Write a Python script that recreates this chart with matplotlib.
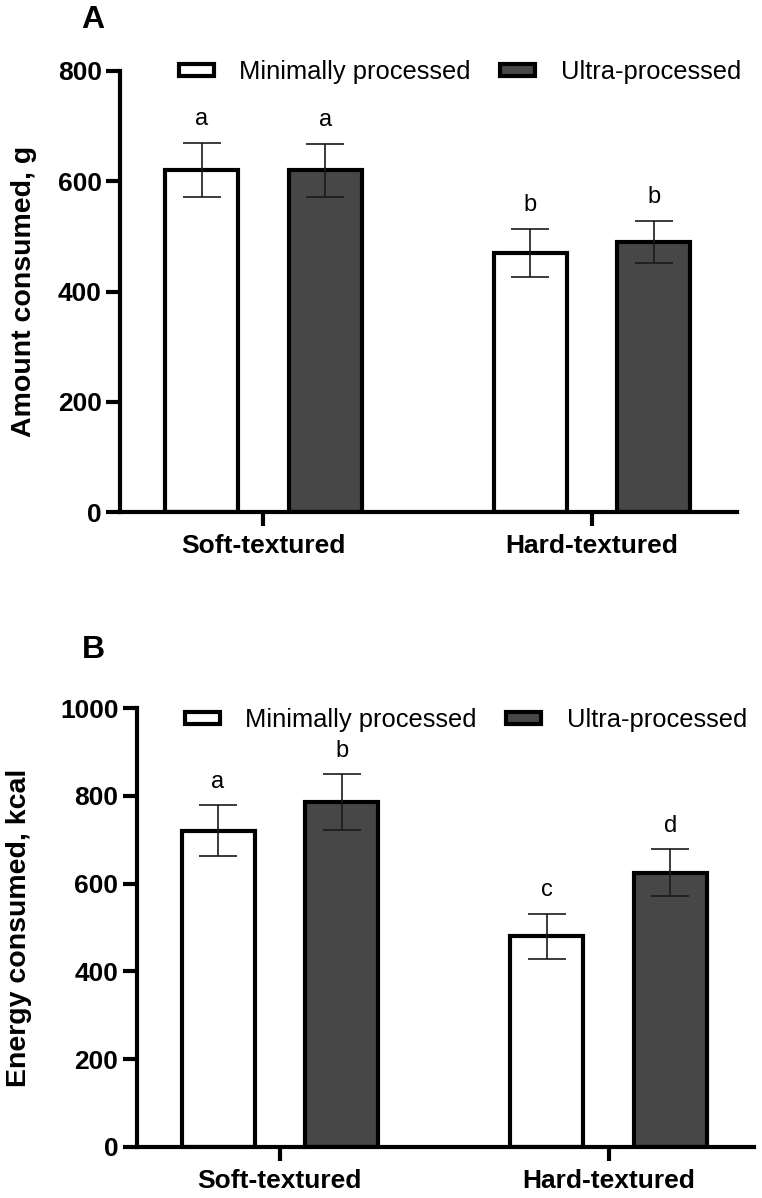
import matplotlib
matplotlib.use("Agg")
import matplotlib.pyplot as plt
import numpy as np
from matplotlib.patches import Patch

plt.rcParams['font.family'] = ['Liberation Sans', 'DejaVu Sans']

categories = ["Soft-textured", "Hard-textured"]
series_names = ["Minimally processed", "Ultra-processed"]

# panel A: amount consumed (g)
amount_mp = [621, 470]
amount_up = [620, 490]
amount_mp_err = [49, 44]
amount_up_err = [48, 38]
amount_mp_letters = ["a", "b"]
amount_up_letters = ["a", "b"]

# panel B: energy consumed (kcal)
energy_mp = [720, 480]
energy_up = [786, 625]
energy_mp_err = [58, 51]
energy_up_err = [63, 53]
energy_mp_letters = ["a", "c"]
energy_up_letters = ["b", "d"]

dark = "#474747"
W, H = 762, 1198
fig = plt.figure(figsize=(W / 100, H / 100), dpi=100)


def panel(rect, mp, up, mp_err, up_err, mp_let, up_let, ymax, ystep, ylabel,
          letter, letter_y, leg_xy, ylabel_x):
    ax = fig.add_axes(rect)
    x = np.arange(len(categories))
    off, bw = 0.188, 0.222
    for xs, vals, errs, lets, fc in [(x - off, mp, mp_err, mp_let, "white"),
                                     (x + off, up, up_err, up_let, dark)]:
        ax.bar(xs, vals, width=bw, color=fc, edgecolor="black", linewidth=3, zorder=2)
        ax.errorbar(xs, vals, yerr=errs, fmt="none", ecolor="#1a1a1a",
                    elinewidth=1.2, capsize=14, capthick=1.2, zorder=3)
        for xi, v, e, t in zip(xs, vals, errs, lets):
            ax.annotate(t, (xi, v + e), xytext=(0, 9), textcoords="offset points",
                        ha="center", va="bottom", fontsize=17)

    ax.set_xlim(-0.436, 1.441)
    ax.set_ylim(0, ymax)
    ax.set_yticks(np.arange(0, ymax + 1, ystep))
    ax.set_xticks(x)
    ax.set_xticklabels(categories, fontsize=19, fontweight="bold")
    for lab in ax.get_yticklabels():
        lab.set_fontweight("bold")
        lab.set_fontsize(19)
    ax.tick_params(axis="both", width=3, length=10, pad=3)
    ax.tick_params(axis="x", pad=6)
    for s in ["top", "right"]:
        ax.spines[s].set_visible(False)
    for s in ["left", "bottom"]:
        ax.spines[s].set_linewidth(3)
    ax.set_ylabel(ylabel, fontsize=20.5, fontweight="bold")
    ax.yaxis.set_label_coords(ylabel_x, 0.5)

    handles = [Patch(facecolor="white", edgecolor="black", linewidth=3),
               Patch(facecolor=dark, edgecolor="black", linewidth=3)]
    ax.legend(handles, series_names, loc="center left", ncol=2, frameon=False,
              bbox_to_anchor=leg_xy, bbox_transform=fig.transFigure,
              fontsize=18.4, borderpad=0, borderaxespad=0, handlelength=1.37,
              handleheight=0.31, handletextpad=0.98, columnspacing=1.17)
    fig.text(93 / W, 1 - letter_y / H, letter, fontsize=23, fontweight="bold",
             ha="center", va="center")
    return ax


panel([120 / W, 1 - 512 / H, 617 / W, 441 / H], amount_mp, amount_up,
      amount_mp_err, amount_up_err, amount_mp_letters, amount_up_letters,
      800, 200, "Amount consumed, g", "A", 20, (179 / W, 1 - 72 / H), -0.135)

panel([136.5 / W, 1 - 1147 / H, 617 / W, 439 / H], energy_mp, energy_up,
      energy_mp_err, energy_up_err, energy_mp_letters, energy_up_letters,
      1000, 200, "Energy consumed, kcal", "B", 650, (185 / W, 1 - 720 / H), -0.17)

fig.savefig("out.png", dpi=100)
